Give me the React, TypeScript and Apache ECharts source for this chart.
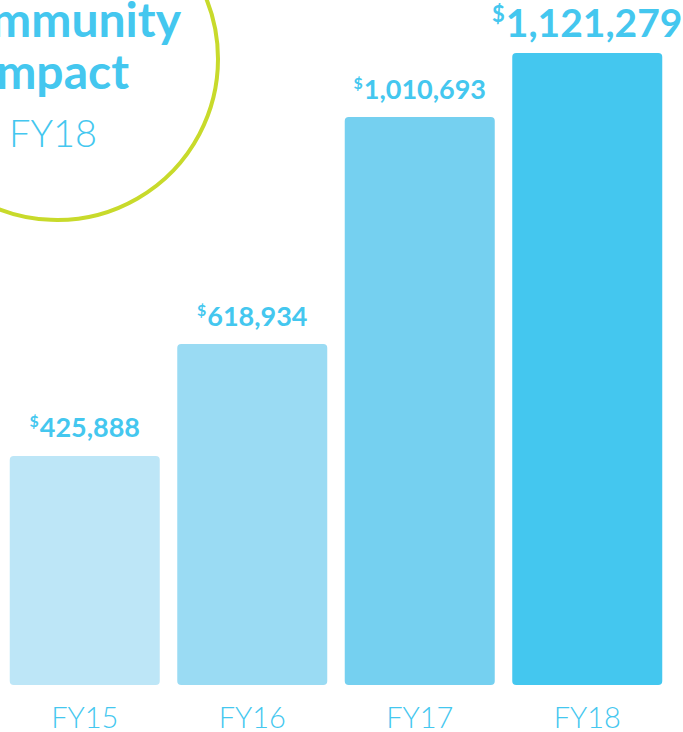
import React, { useEffect, useRef } from "react";
import * as echarts from "echarts";

const categories = ["FY15", "FY16", "FY17", "FY18"];
const values = [425888, 618934, 1010693, 1121279];
const barColors = ["#bde6f7", "#9adbf3", "#75d0f0", "#44c7ef"];
const titleLines = ["Community", "Impact", "FY18"];

const BLUE = "#44c7ef";
const FONT = "Lato, 'Open Sans', sans-serif";

export default function App() {
  const ref = useRef<HTMLDivElement>(null);
  useEffect(() => {
    if (!ref.current) return;
    const chart = echarts.init(ref.current, undefined, { renderer: "svg" });
    const fmt = (v: number) => v.toLocaleString("en-US");
    const data = values.map((v, i) => {
      const big = i === values.length - 1;
      return {
        value: v,
        itemStyle: { color: barColors[i] },
        label: {
          show: true,
          position: "top",
          distance: big ? 11 : 15,
          formatter: () => `{d|$}{v|${fmt(v)}}`,
          rich: {
            d: {
              fontFamily: FONT,
              fontWeight: "bold",
              fontSize: big ? 22 : 16,
              color: BLUE,
              verticalAlign: "top",
              lineHeight: big ? 40 : 28,
              padding: [0, 1, 0, 0],
            },
            v: {
              fontFamily: FONT,
              fontWeight: "bold",
              fontSize: big ? 39 : 27,
              color: BLUE,
              lineHeight: big ? 40 : 28,
            },
          },
        },
      };
    });
    chart.setOption({
      animation: false,
      grid: { left: 1, right: 12, top: 53, bottom: 47, containLabel: false },
      xAxis: {
        type: "category",
        data: categories,
        axisLine: { show: false },
        axisTick: { show: false },
        axisLabel: {
          color: BLUE,
          fontFamily: FONT,
          fontWeight: 300,
          fontSize: 29,
          margin: 17,
        },
      },
      yAxis: {
        type: "value",
        min: 30720,
        max: 1121279,
        startValue: 30720,
        show: false,
        splitLine: { show: false },
      },
      series: [
        {
          type: "bar",
          data,
          barWidth: 150,
          itemStyle: { borderRadius: 4 },
        },
      ],
      graphic: [
        {
          type: "circle",
          shape: { cx: 57, cy: 59, r: 161 },
          style: { fill: "none", stroke: "#c8da2b", lineWidth: 4 },
        },
        {
          type: "text",
          x: 181,
          y: -6,
          style: {
            text: titleLines[0],
            font: `bold 48px ${FONT}`,
            fill: BLUE,
            textAlign: "right",
          },
        },
        {
          type: "text",
          x: 129,
          y: 46,
          style: {
            text: titleLines[1],
            font: `bold 48px ${FONT}`,
            fill: BLUE,
            textAlign: "right",
          },
        },
        {
          type: "text",
          x: 9,
          y: 113,
          style: {
            text: titleLines[2],
            font: `300 38px ${FONT}`,
            fill: BLUE,
            textAlign: "left",
          },
        },
      ],
    });
    return () => chart.dispose();
  }, []);
  return (
    <div
      ref={ref}
      style={{ position: "fixed", left: 0, top: 0, width: 683, height: 732, background: "#fff" }}
    />
  );
}
